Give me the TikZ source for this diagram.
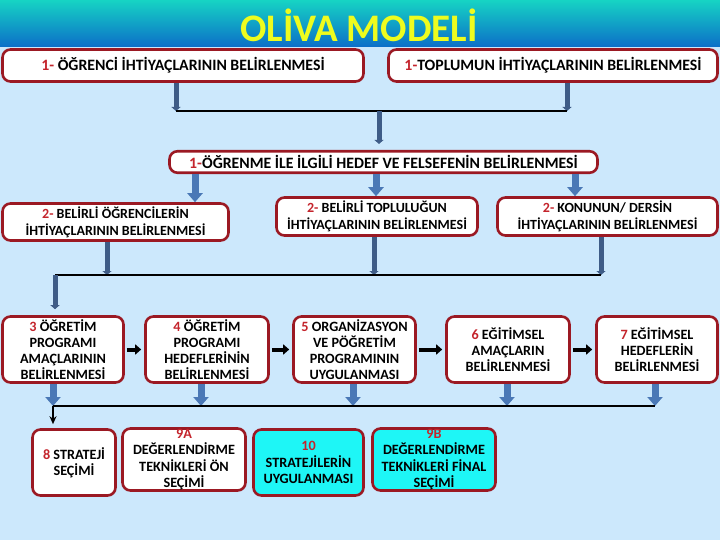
\documentclass[tikz,border=0pt]{standalone}
\usepackage{fontspec}
\setmainfont{Carlito}
\usetikzlibrary{arrows.meta}
\definecolor{bgblue}{RGB}{204,232,252}
\definecolor{framered}{RGB}{155,25,35}
\definecolor{numred}{RGB}{196,36,44}
\definecolor{barblue}{RGB}{62,92,135}
\definecolor{fatblue}{RGB}{74,120,182}
\definecolor{boxcyan}{RGB}{30,246,246}
\definecolor{tealtop}{RGB}{22,212,196}
\definecolor{cyanmid}{RGB}{30,196,226}
\definecolor{bluebot}{RGB}{12,110,200}
\definecolor{titleyellow}{RGB}{238,252,30}
\newcommand{\nr}[1]{\textcolor{numred}{#1}}
\begin{document}
\begin{tikzpicture}[x=1pt, y=-1pt,
  box/.style={draw=framered, line width=2.6pt, fill=white, rounded corners=8pt,
    align=center, inner sep=0pt, font=\bfseries\fontsize{14.2}{16.2}\selectfont},
  widebox/.style={box, font=\bfseries\fontsize{15.8}{18}\selectfont},
  pairbox/.style={box, font=\bfseries\fontsize{14}{17}\selectfont},
  cyanbox/.style={box, fill=boxcyan},
  bar/.style={draw=barblue, line width=5pt, -{Triangle[width=9pt,length=4pt]}},
  fat/.style={draw=fatblue, line width=7pt, -{Triangle[width=15pt,length=9pt]}},
  bus/.style={draw=black, line width=2.8pt},
  nextarrow/.style={draw=black, line width=4pt, -{Triangle[width=10pt,length=6pt]},
    shorten <=2pt, shorten >=3pt},
  droparrow/.style={draw=black, line width=1.8pt, -{Stealth[width=7pt,length=8pt]}}]
  % Background and title bar
  \useasboundingbox (0,0) rectangle (720,540);
  \fill[bgblue] (0,0) rectangle (720,540);
  \shade[top color=tealtop, middle color=cyanmid, bottom color=bluebot] (0,0) rectangle (720,47);
  \node[font=\bfseries\fontsize{39}{42}\selectfont, text=titleyellow] (title) at (359,25) {OLİVA MODELİ};
  % Needs
  \node[widebox, minimum width=361pt, minimum height=32pt] (needA) at (183,65.5) {\nr{1-} ÖĞRENCİ İHTİYAÇLARININ BELİRLENMESİ};
  \node[widebox, minimum width=329pt, minimum height=32pt] (needB) at (553,65.5) {\nr{1-}TOPLUMUN İHTİYAÇLARININ BELİRLENMESİ};
  \node[widebox, minimum width=428pt, minimum height=21.5pt] (goal) at (383.5,162) {\nr{1-}ÖĞRENME İLE İLGİLİ HEDEF VE FELSEFENİN BELİRLENMESİ};
  \node[pairbox, minimum width=226pt, minimum height=37pt] (rowA) at (115.5,222) {\nr{2-} BELİRLİ ÖĞRENCİLERİN\\İHTİYAÇLARININ BELİRLENMESİ};
  \node[pairbox, minimum width=201pt, minimum height=38pt] (rowB) at (377,216.5) {\nr{2-} BELİRLİ TOPLULUĞUN\\İHTİYAÇLARININ BELİRLENMESİ};
  \node[pairbox, minimum width=220pt, minimum height=38pt] (rowC) at (607.5,216.5) {\nr{2-} KONUNUN/ DERSİN\\İHTİYAÇLARININ BELİRLENMESİ};
  % Program steps
  \node[box, minimum width=121pt, minimum height=66pt] (s3) at (63,349.5) {\nr{3} ÖĞRETİM\\PROGRAMI\\AMAÇLARININ\\BELİRLENMESİ};
  \node[box, minimum width=123pt, minimum height=66pt] (s4) at (207,349.5) {\nr{4} ÖĞRETİM\\PROGRAMI\\HEDEFLERİNİN\\BELİRLENMESİ};
  \node[box, minimum width=122pt, minimum height=66pt] (s5) at (354.5,349.5) {\nr{5} ORGANİZASYON\\VE PÖĞRETİM\\PROGRAMININ\\UYGULANMASI};
  \node[box, minimum width=123pt, minimum height=66pt] (s6) at (508,349.5) {\nr{6} EĞİTİMSEL\\AMAÇLARIN\\BELİRLENMESİ};
  \node[box, minimum width=121pt, minimum height=66pt] (s7) at (657,349.5) {\nr{7} EĞİTİMSEL\\HEDEFLERİN\\BELİRLENMESİ};
  % Strategy and evaluation
  \node[box, minimum width=83pt, minimum height=66pt] (s8) at (74,462.5) {\nr{8} STRATEJİ\\SEÇİMİ};
  \node[box, minimum width=123pt, minimum height=62pt] (s9a) at (184,459.5) {\nr{9A}\\DEĞERLENDİRME\\TEKNİKLERİ ÖN\\SEÇİMİ};
  \node[cyanbox, minimum width=110pt, minimum height=66pt] (s10) at (308.5,462.5) {\nr{10}\\STRATEJİLERİN\\UYGULANMASI};
  \node[cyanbox, minimum width=123pt, minimum height=62pt] (s9b) at (434,459.5) {\nr{9B}\\DEĞERLENDİRME\\TEKNİKLERİ FİNAL\\SEÇİMİ};
  % Needs to goal
  \coordinate (busAL) at (176,111);
  \coordinate (busAR) at (567,111);
  \coordinate (busAM) at (379,111);
  \draw[bar] (needA.south -| busAL) -- (busAL);
  \draw[bar] (needB.south -| busAR) -- (busAR);
  \draw[bus] (busAL) -- (busAR);
  \draw[bar, shorten >=6pt] (busAM) -- (goal.north -| busAM);
  % Goal to second row
  \foreach \x/\b in {195/rowA, 376/rowB, 575/rowC} {
    \coordinate (t\b) at (\x,0);
    \draw[fat] (goal.south -| t\b) -- (\b.north -| t\b);
  }
  % Second row to step 3
  \coordinate (busBL) at (55,275);
  \coordinate (busBR) at (601,275);
  \foreach \x/\b in {107/rowA, 374/rowB, 601/rowC} {
    \coordinate (d\b) at (\x,275);
    \draw[bar] (\b.south -| d\b) -- (d\b);
  }
  \draw[bus] (busBL) -- (busBR);
  \draw[bar, shorten >=6pt] (busBL) -- (s3.north -| busBL);
  % Steps in a row
  \foreach \a/\b in {s3/s4, s4/s5, s5/s6, s6/s7}
    \draw[nextarrow] (\a.east) -- (\b.west);
  % Steps to strategy
  \coordinate (busCL) at (53,406);
  \coordinate (busCR) at (655,406);
  \foreach \x/\b in {53/s3, 201/s4, 353/s5, 507/s6, 655/s7} {
    \coordinate (d\b) at (\x,406);
    \draw[fat] (\b.south -| d\b) -- (d\b);
  }
  \draw[bus] (busCL) -- (busCR);
  \draw[droparrow, shorten >=4pt] (busCL) -- (s8.north -| busCL);
\end{tikzpicture}
\end{document}
